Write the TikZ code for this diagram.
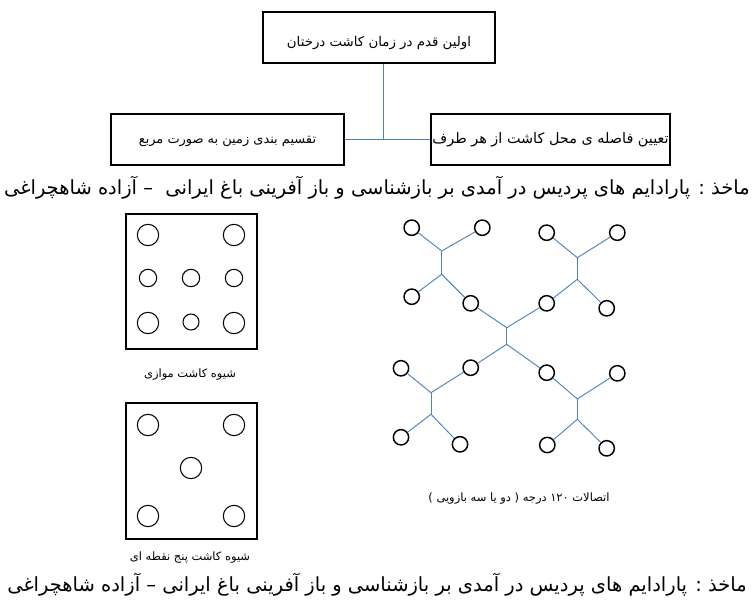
\documentclass[tikz,border=0pt]{standalone}
\usepackage{fontspec}
\newfontfamily\fa[Script=Arabic]{DejaVu Sans}
\TeXXeTstate=1
\definecolor{linkblue}{RGB}{79,129,189}

\begin{document}
\begin{tikzpicture}[x=0.75pt, y=-0.75pt]

    \tikzstyle{box}=[draw=black, line width=1.1pt, minimum height=38.25pt, inner sep=1pt, text height=8pt, text depth=2pt, font=\fa\fontsize{10}{12}\selectfont];
    \tikzstyle{frame}=[draw=black, line width=0.9pt, minimum width=98.25pt];
    \tikzstyle{seed}=[circle, draw=black, line width=0.8pt, inner sep=0pt];
    \tikzstyle{tree}=[circle, draw=black, line width=1.1pt, minimum size=11.5pt, inner sep=0pt];
    \tikzstyle{link}=[draw=linkblue, line width=0.7pt];
    \tikzstyle{source}=[font=\fa\fontsize{14.6}{16}\selectfont];
    \tikzstyle{note}=[font=\fa\fontsize{8.6}{10}\selectfont];

    \useasboundingbox (0,0) rectangle (754,603);

    % top chart
    \node[box, minimum width=174pt, text height=15pt, text depth=2pt] (first) at (379, 37.5) {\beginR اولین قدم در زمان کاشت درختان\endR};
    \node[box, minimum width=174.75pt, font=\fa\fontsize{9.7}{12}\selectfont] (square) at (227.5, 139.5) {\beginR تقسیم بندی زمین به صورت مربع\endR};
    \node[box, minimum width=179.25pt, font=\fa\fontsize{10.8}{12}\selectfont] (distance) at (550.5, 139.5) {\beginR تعیین فاصله ی محل کاشت از هر طرف\endR};
    \coordinate (hub) at (383, 139.5);

    \draw[link] (first.south -| hub) -- (hub);
    \draw[link] (square.east) -- (distance.west);

    \node[source] (src1) at (377, 188) {\beginR ماخذ : پارادایم های پردیس در آمدی بر بازشناسی و باز آفرینی باغ ایرانی\ \ – آزاده شاهچراغی\endR};

    % parallel planting
    \node[frame, minimum height=101.25pt] (par) at (191.5, 281.5) {};
    \node[seed, minimum size=16pt] (p1) at (148, 235) {};
    \node[seed, minimum size=16pt] (p2) at (234, 235) {};
    \node[seed, minimum size=13pt] (p3) at (148, 278) {};
    \node[seed, minimum size=13pt] (p4) at (191, 278) {};
    \node[seed, minimum size=13pt] (p5) at (234, 278) {};
    \node[seed, minimum size=16pt] (p6) at (148, 323) {};
    \node[seed, minimum size=12pt] (p7) at (191, 322) {};
    \node[seed, minimum size=16pt] (p8) at (234, 323) {};
    \node[note] (parlabel) at (190, 375) {\beginR شیوه کاشت موازی\endR};

    % five point planting
    \node[frame, minimum height=102pt] (five) at (191.5, 471) {};
    \node[seed, minimum size=16pt] (q1) at (148, 425) {};
    \node[seed, minimum size=16pt] (q2) at (234, 425) {};
    \node[seed, minimum size=16pt] (q3) at (191, 468) {};
    \node[seed, minimum size=16pt] (q4) at (148, 516) {};
    \node[seed, minimum size=16pt] (q5) at (234, 516) {};
    \node[note] (fivelabel) at (190, 558) {\beginR شیوه کاشت پنج نقطه ای\endR};

    % 120 degree joints
    \node[tree] (t1) at (411.7, 227.7) {};
    \node[tree] (t2) at (482.3, 227.7) {};
    \node[tree] (t3) at (411.7, 296.7) {};
    \node[tree] (t4) at (470.7, 303.3) {};
    \node[tree] (t5) at (546.7, 232.7) {};
    \node[tree] (t6) at (617.3, 232.7) {};
    \node[tree] (t7) at (546.7, 303.3) {};
    \node[tree] (t8) at (606.7, 308.3) {};
    \node[tree] (t9) at (470.7, 367.7) {};
    \node[tree] (t10) at (546.7, 372.7) {};
    \node[tree] (t11) at (401, 368.3) {};
    \node[tree] (t12) at (401, 437.3) {};
    \node[tree] (t13) at (460, 444.3) {};
    \node[tree] (t14) at (617.3, 373.3) {};
    \node[tree] (t15) at (547.3, 445) {};
    \node[tree] (t16) at (606.7, 448.3) {};

    \coordinate (j1) at (441.7, 251);
    \coordinate (k1) at (441.7, 274.3);
    \coordinate (j2) at (577.3, 257.7);
    \coordinate (k2) at (577.3, 279.3);
    \coordinate (j0) at (506.7, 327.7);
    \coordinate (k0) at (506.7, 344.3);
    \coordinate (j3) at (431, 392.7);
    \coordinate (k3) at (431, 414.3);
    \coordinate (j4) at (577.3, 399);
    \coordinate (k4) at (577.3, 419.3);

    \draw[link] (t1) -- (j1) -- (t2);
    \draw[link] (j1) -- (k1);
    \draw[link] (t3) -- (k1) -- (t4);

    \draw[link] (t5) -- (j2) -- (t6);
    \draw[link] (j2) -- (k2);
    \draw[link] (t7) -- (k2) -- (t8);

    \draw[link] (t4) -- (j0) -- (t7);
    \draw[link] (j0) -- (k0);
    \draw[link] (t9) -- (k0) -- (t10);

    \draw[link] (t11) -- (j3) -- (t9);
    \draw[link] (j3) -- (k3);
    \draw[link] (t12) -- (k3) -- (t13);

    \draw[link] (t10) -- (j4) -- (t14);
    \draw[link] (j4) -- (k4);
    \draw[link] (t15) -- (k4) -- (t16);

    \node[note] (treelabel) at (519, 499) {\beginR اتصالات ۱۲۰ درجه ( دو یا سه بازویی )\endR};

    \node[source] (src2) at (377, 585) {\beginR ماخذ : پارادایم های پردیس در آمدی بر بازشناسی و باز آفرینی باغ ایرانی – آزاده شاهچراغی\endR};

\end{tikzpicture}
\end{document}
